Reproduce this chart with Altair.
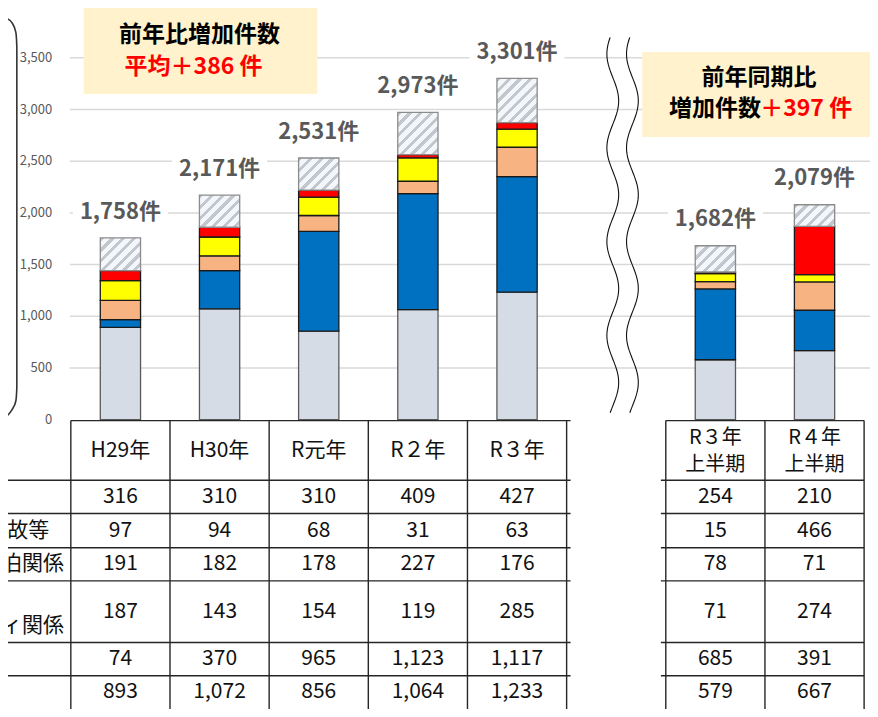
import math
import altair as alt
import pandas as pd

# ---------------- data ----------------
categories = ["H29年", "H30年", "R元年", "R２年", "R３年", "R３年上半期", "R４年上半期"]
header_top = ["H29年", "H30年", "R元年", "R２年", "R３年", "R３年", "R４年"]
header_bottom = ["", "", "", "", "", "上半期", "上半期"]
period_group = ["年", "年", "年", "年", "年", "上半期", "上半期"]
row1 = [316, 310, 310, 409, 427, 254, 210]      # hatched (top of stack)
row2 = [97, 94, 68, 31, 63, 15, 466]            # red
row3 = [191, 182, 178, 227, 176, 78, 71]        # yellow
row4 = [187, 143, 154, 119, 285, 71, 274]       # peach
row5 = [74, 370, 965, 1123, 1117, 685, 391]     # blue
row6 = [893, 1072, 856, 1064, 1233, 579, 667]   # grey (bottom)
totals = [1758, 2171, 2531, 2973, 3301, 1682, 2079]
row_labels = ["", "事故等", "宿泊関係", "ィ関係", "", ""]
y_ticks = [0, 500, 1000, 1500, 2000, 2500, 3000, 3500]
annual_note = ["前年比増加件数", "平均＋386 件"]
half_note = ["前年同期比", "増加件数", "＋397 件"]

# ---------------- layout helpers ----------------
W, H = 862, 701
REF_W, REF_H = 878, 717
FONT = "Noto Sans CJK JP"


def sx(rx):
    """reference pixel x -> column slot units"""
    return (rx - 64) / 101 - 0.5


UNIT = 52.857 / 500  # reference px per count


def vy(ry):
    """reference pixel y -> count units"""
    return (421 - ry) / UNIT


xsc = alt.Scale(domain=[sx(0), sx(REF_W)], nice=False, zero=False)
ysc = alt.Scale(domain=[vy(REF_H), vy(0)], nice=False, zero=False)


def X(f):
    return alt.X(f, type="quantitative", scale=xsc, axis=None)


def Y(f):
    return alt.Y(f, type="quantitative", scale=ysc, axis=None)


slots = [i + (1 if g == "上半期" else 0) for i, g in enumerate(period_group)]
HALF = 0.203

layers = []

# gridlines
grid_df = pd.DataFrame({"v": y_ticks[1:], "x0": sx(63), "x1": sx(REF_W)})
layers.append(alt.Chart(grid_df).mark_rule(color="#D9D9D9", strokeWidth=1.5).encode(
    x=X("x0"), x2="x1", y=Y("v")))

# y tick labels
tick_df = pd.DataFrame({"v": y_ticks, "lab": [f"{t:,}" for t in y_ticks], "x": sx(45)})
layers.append(alt.Chart(tick_df).mark_text(align="right", baseline="middle", fontSize=13,
                                           font=FONT, color="#595959").encode(
    x=X("x"), y=Y("v"), text="lab:N"))

# note boxes
box_df = pd.DataFrame({"x0": [sx(77), sx(646)], "x1": [sx(315), sx(890)],
                       "y0": [vy(88), vy(132)], "y1": [vy(-5), vy(45)]})
layers.append(alt.Chart(box_df).mark_rect(color="#FFF2CC").encode(
    x=X("x0"), x2="x1", y=Y("y0"), y2="y1"))

note_df = pd.DataFrame({
    "t": [annual_note[0], annual_note[1], half_note[0], half_note[1], half_note[2]],
    "x": [sx(195), sx(189), sx(765), sx(720), sx(813)],
    "y": [vy(28), vy(60), vy(72), vy(103), vy(103)],
    "c": ["#000000", "#FF0000", "#000000", "#000000", "#FF0000"],
})
layers.append(alt.Chart(note_df).mark_text(fontSize=23, fontWeight="bold", font=FONT,
                                           baseline="middle").encode(
    x=X("x"), y=Y("y"), text="t:N", color=alt.Color("c:N", scale=None)))

# total labels with white background
off = 27 / UNIT
hb = 16 / UNIT
lab_df = pd.DataFrame({
    "slot": slots, "tot": totals,
    "lab": [f"{t:,}件" for t in totals],
})
lab_df["x0"] = lab_df["slot"] - 0.48
lab_df["x1"] = lab_df["slot"] + 0.48
lab_df["yc"] = lab_df["tot"] + off
lab_df["yb"] = lab_df["yc"] - hb
lab_df["yt"] = lab_df["yc"] + hb
layers.append(alt.Chart(lab_df).mark_rect(color="white").encode(
    x=X("x0"), x2="x1", y=Y("yb"), y2="yt"))
layers.append(alt.Chart(lab_df).mark_text(fontSize=22, fontWeight="bold", font=FONT,
                                          color="#595959", baseline="middle").encode(
    x=X("slot"), y=Y("yc"), text="lab:N"))

# stacked coloured segments
series_names = ["r6", "r5", "r4", "r3", "r2"]
series_vals = [row6, row5, row4, row3, row2]
fills = ["#D6DCE5", "#0070C0", "#F8B382", "#FFFF00", "#FF0000"]
strokes = ["#595959", "#1A1A1A", "#1A1A1A", "#1A1A1A", "#1A1A1A"]
recs = []
for i, s in enumerate(slots):
    base = 0
    for name, vals in zip(series_names, series_vals):
        recs.append({"slot": s, "series": name, "y0": base, "y1": base + vals[i],
                     "xl": s - HALF, "xr": s + HALF})
        base += vals[i]
seg_df = pd.DataFrame(recs)
layers.append(alt.Chart(seg_df).mark_bar(strokeWidth=1.3).encode(
    x=X("xl"), x2="xr", y=Y("y0"), y2="y1",
    fill=alt.Fill("series:N", scale=alt.Scale(domain=series_names, range=fills), legend=None),
    stroke=alt.Stroke("series:N", scale=alt.Scale(domain=series_names, range=strokes), legend=None)))

# hatched top segments (diagonal stripes by gradient)
BG, STRIPE = "#F3F6FB", "#C2C6CD"
w_px = 2 * HALF * 101 * W / REF_W


def hatch(w, h, period=7.6, frac=0.4):
    k = (w + h) / (w * w + h * h)
    n = ((w + h) / math.sqrt(2)) / period
    st = []
    i = 0
    while i / n < 1:
        a = i / n
        b = min((i + frac) / n, 1.0)
        c = min((i + 1) / n, 1.0)
        st += [(a, STRIPE), (b, STRIPE), (b, BG), (c, BG)]
        i += 1
    return alt.LinearGradient(gradient="linear", x1=0, y1=0, x2=k * w, y2=k * h,
                              stops=[alt.GradientStop(offset=o, color=c) for o, c in st])


for i, s in enumerate(slots):
    lower = totals[i] - row1[i]
    d = pd.DataFrame({"xl": [s - HALF], "xr": [s + HALF], "y0": [lower], "y1": [totals[i]]})
    h_px = row1[i] * UNIT * H / REF_H
    layers.append(alt.Chart(d).mark_bar(fill=hatch(w_px, h_px), stroke="#8C8C8C",
                                        strokeWidth=1.3).encode(
        x=X("xl"), x2="xr", y=Y("y0"), y2="y1"))

# wavy break lines
wave = []
for lid, x0 in enumerate([616, 636]):
    for j, ry in enumerate(range(30, 416, 2)):
        rx = x0 + 6 * math.sin(2 * math.pi * (ry - 71) / 96)
        wave.append({"id": lid, "o": j, "x": sx(rx), "y": vy(ry)})
wave_df = pd.DataFrame(wave)
layers.append(alt.Chart(wave_df).mark_line(color="#111111", strokeWidth=1.1).encode(
    x=X("x"), y=Y("y"), detail="id:N", order="o:Q"))

# left brace
brace_pts = [(-1, 11), (4, 15), (8, 25), (9, 40), (9, 388), (8, 402), (4, 411), (-1, 417)]
brace_df = pd.DataFrame({"o": range(len(brace_pts)),
                         "x": [sx(p[0]) for p in brace_pts],
                         "y": [vy(p[1]) for p in brace_pts]})
layers.append(alt.Chart(brace_df).mark_line(color="#333333", strokeWidth=1.6,
                                            interpolate="monotone").encode(
    x=X("x"), y=Y("y"), order="o:Q"))

# table grid
row_bounds = [422, 483, 517, 552, 586, 649, 683, 717]
hl = []
for k, ry in enumerate(row_bounds[:-1]):
    left_start = sx(-5) if k > 0 else -0.5
    hl.append({"x0": left_start, "x1": sx(573), "y": vy(ry)})
    hl.append({"x0": sx(665) if k > 0 else 5.5, "x1": 7.5, "y": vy(ry)})
hl_df = pd.DataFrame(hl)
layers.append(alt.Chart(hl_df).mark_rule(color="#262626", strokeWidth=1.4).encode(
    x=X("x0"), x2="x1", y=Y("y")))

vbounds = [-0.5, 0.5, 1.5, 2.5, 3.5, 4.5, 5.5, 6.5, 7.5]
vl_df = pd.DataFrame({"x": vbounds, "y0": vy(422), "y1": vy(REF_H + 5)})
layers.append(alt.Chart(vl_df).mark_rule(color="#262626", strokeWidth=1.4).encode(
    x=X("x"), y=Y("y0"), y2="y1"))

# header texts
hdr_single, hdr_double = [], []
for i, s in enumerate(slots):
    if header_bottom[i]:
        hdr_double.append({"x": s, "y": vy(440), "t": header_top[i]})
        hdr_double.append({"x": s, "y": vy(467), "t": header_bottom[i]})
    else:
        hdr_single.append({"x": s, "y": vy(453), "t": header_top[i]})
layers.append(alt.Chart(pd.DataFrame(hdr_single)).mark_text(
    fontSize=21, font=FONT, color="#111111", baseline="middle").encode(
    x=X("x"), y=Y("y"), text="t:N"))
layers.append(alt.Chart(pd.DataFrame(hdr_double)).mark_text(
    fontSize=20, font=FONT, color="#111111", baseline="middle").encode(
    x=X("x"), y=Y("y"), text="t:N"))

# cell values
centers = [(row_bounds[k] + row_bounds[k + 1]) / 2 for k in range(1, 7)]
cells = []
for r, vals in enumerate([row1, row2, row3, row4, row5, row6]):
    for i, s in enumerate(slots):
        cells.append({"x": s, "y": vy(centers[r]), "t": f"{vals[i]:,}"})
cell_df = pd.DataFrame(cells)
layers.append(alt.Chart(cell_df).mark_text(fontSize=21, font=FONT, color="#111111",
                                           baseline="middle").encode(
    x=X("x"), y=Y("y"), text="t:N"))

# row labels (cut at the left edge, as in the source)
rl = pd.DataFrame({
    "t": [row_labels[1], row_labels[2], row_labels[3]],
    "x": [sx(42), sx(57), sx(57)],
    "y": [vy(centers[1]), vy(centers[2]), vy(632)],
})
layers.append(alt.Chart(rl).mark_text(fontSize=21, font=FONT, color="#111111", align="right",
                                      baseline="middle", clip=True).encode(
    x=X("x"), y=Y("y"), text="t:N"))

chart = alt.layer(*layers).properties(
    width=W, height=H, padding=0,
    autosize=alt.AutoSizeParams(type="none"),
).configure_view(strokeWidth=0)

chart.save("out.html", embed_options={"renderer": "svg", "actions": False})
